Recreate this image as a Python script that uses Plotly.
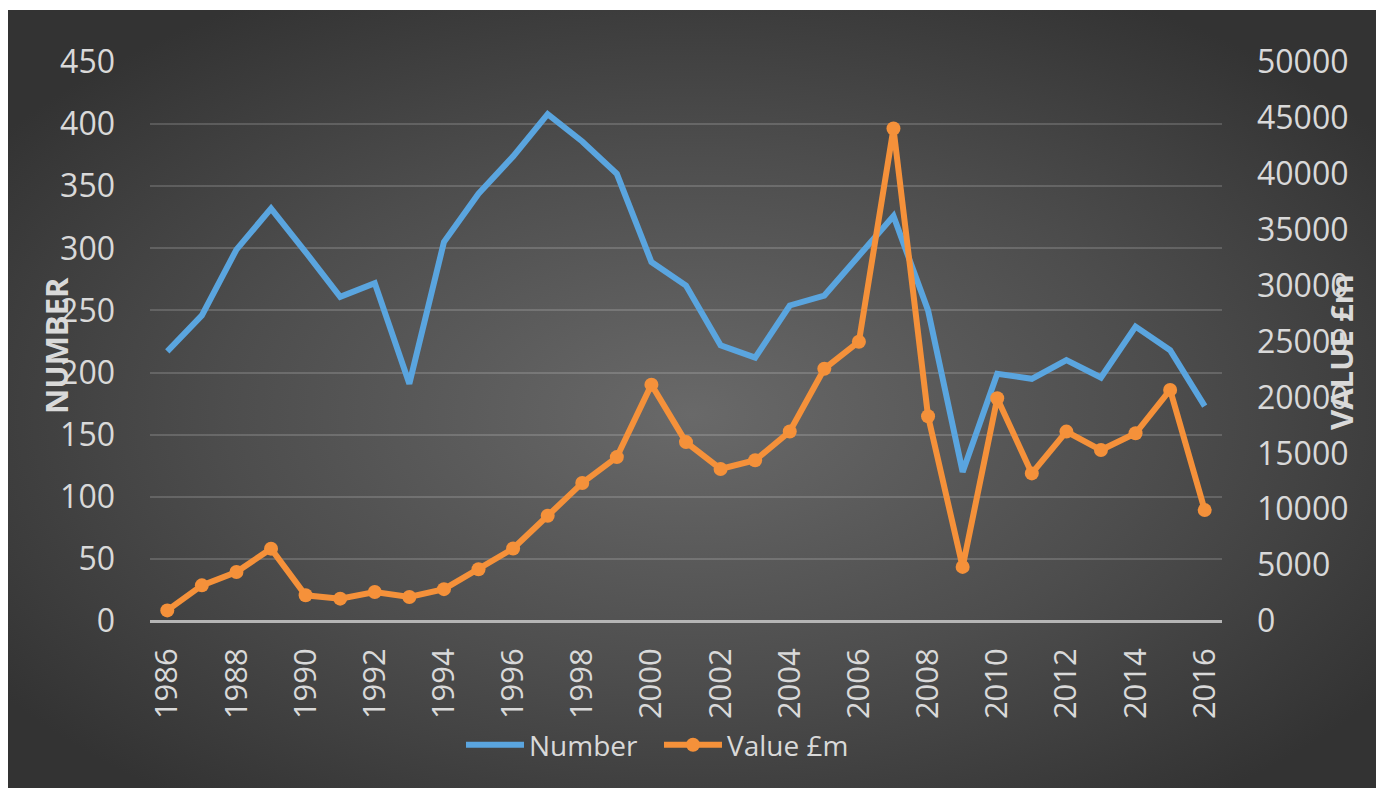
import base64
import plotly.graph_objects as go

years = list(range(1986, 2017))
number = [217, 246, 299, 332, 297, 261, 272, 191, 305, 344, 374, 408, 386, 360,
          289, 270, 222, 212, 254, 262, 294, 326, 250, 120, 199, 195, 210, 196,
          237, 218, 173]
value_m = [950, 3190, 4380, 6470, 2300, 2000, 2590, 2150, 2850, 4630, 6480, 9410,
           12350, 14660, 21140, 16000, 13600, 14380, 16950, 22560, 24980, 44050,
           18320, 4840, 19920, 13200, 16940, 15290, 16790, 20670, 9920]
x_ticks = list(range(1986, 2017, 2))
left_ticks = list(range(0, 451, 50))
right_ticks = list(range(0, 50001, 5000))

W, H = 1376, 788
L, R, T, B = 150, 154, 62, 167
pw, ph = W - L - R, H - T - B

svg = '''<svg xmlns="http://www.w3.org/2000/svg" width="1368" height="778" viewBox="0 0 1368 778" preserveAspectRatio="none">
<defs><radialGradient id="g" cx="50%" cy="52%" r="62%">
<stop offset="0%" stop-color="#696969"/><stop offset="55%" stop-color="#4d4d4d"/><stop offset="100%" stop-color="#333333"/>
</radialGradient></defs><rect width="1368" height="778" fill="url(#g)"/></svg>'''
src = "data:image/svg+xml;base64," + base64.b64encode(svg.encode()).decode()

txt = "#d9d9d9"
FONT = "Open Sans"

fig = go.Figure()
fig.add_trace(go.Scatter(x=years, y=number, name="Number", mode="lines",
                         line=dict(color="#5aa5df", width=6), yaxis="y"))
fig.add_trace(go.Scatter(x=years, y=value_m, name="Value £m", mode="lines+markers",
                         line=dict(color="#f5913a", width=6),
                         marker=dict(size=14, color="#f5913a"), yaxis="y2"))


def px_x(p):
    return (p - L) / pw


def px_y(p):
    return (H - B - p) / ph


fig.update_layout(
    width=W, height=H,
    margin=dict(l=L, r=R, t=T, b=B, autoexpand=False),
    paper_bgcolor="white", plot_bgcolor="rgba(0,0,0,0)",
    font=dict(family=FONT, color=txt, size=32),
    images=[dict(source=src, xref="paper", yref="paper",
                 x=px_x(8), y=px_y(10), sizex=1368 / pw, sizey=778 / ph,
                 xanchor="left", yanchor="top", sizing="stretch", layer="below")],
    xaxis=dict(range=[1985.5, 2016.5], tickvals=x_ticks, ticktext=[str(t) for t in x_ticks],
               tickangle=-90, showgrid=False, zeroline=False, showline=False,
               ticks="", ticklabelstandoff=20, tickfont=dict(size=31, color=txt)),
    yaxis=dict(range=[0, 450], tickvals=left_ticks, ticktext=[str(t) for t in left_ticks],
               showgrid=True, gridcolor="rgba(255,255,255,0.16)", gridwidth=1.5,
               zeroline=True, zerolinecolor="#b5b5b5", zerolinewidth=3,
               showline=False, ticks="", ticklabelstandoff=34,
               tickfont=dict(size=32, color=txt)),
    yaxis2=dict(range=[0, 50000], tickvals=right_ticks, ticktext=[str(t) for t in right_ticks],
                overlaying="y", side="right",
                showgrid=False, zeroline=False, showline=False, ticks="",
                ticklabelstandoff=34, tickfont=dict(size=32, color=txt)),
    legend=dict(orientation="h", x=px_x(659), xanchor="center", y=px_y(745), yanchor="middle",
                bgcolor="rgba(0,0,0,0)", font=dict(size=28, color=txt),
                itemwidth=58, entrywidth=125, entrywidthmode="pixels", tracegroupgap=0),
    showlegend=True,
    annotations=[
        dict(text="<b>NUMBER</b>", textangle=-90, xref="paper", yref="paper",
             x=px_x(56), y=px_y(346), xanchor="center", yanchor="middle",
             showarrow=False, font=dict(size=31, color=txt, family=FONT)),
        dict(text="<b>VALUE £m</b>", textangle=-90, xref="paper", yref="paper",
             x=px_x(1341), y=px_y(352), xanchor="center", yanchor="middle",
             showarrow=False, font=dict(size=31, color=txt, family=FONT)),
    ],
)

fig.write_html("out.html", config={"displayModeBar": False},
               post_script="document.body.style.margin='0';")
